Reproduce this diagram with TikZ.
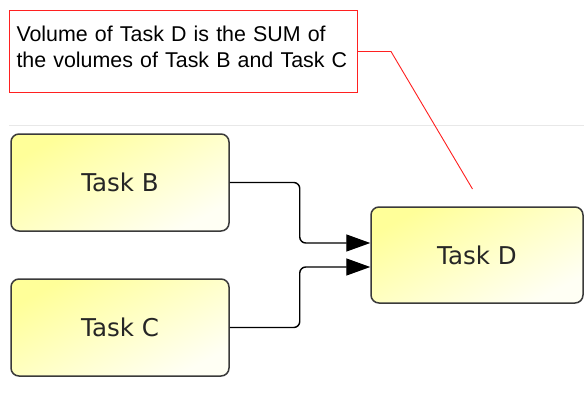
\documentclass[tikz,border=0pt]{standalone}
\usepackage{fontspec}
\setmainfont{Liberation Sans}
\newfontfamily\taskfont{DejaVu Sans}
\usetikzlibrary{arrows.meta}

\definecolor{taskedge}{HTML}{3A3A3A}
\definecolor{taskyellow}{HTML}{FFFF99}
\definecolor{taskpale}{HTML}{FFFFF4}
\definecolor{rulegray}{HTML}{E8E8E8}
\definecolor{notered}{HTML}{FF2020}

\tikzset{
  taskbox/.style={draw=taskedge, line width=1.5pt, rounded corners=8pt,
    top color=taskyellow, bottom color=taskpale, shading angle=28,
    minimum width=218pt, minimum height=97pt, inner sep=0pt,
    font=\taskfont\fontsize{24.5}{28}\selectfont, text=black!85},
  conn/.style={draw=black, line width=1.4pt, rounded corners=6pt,
    -{Triangle[length=24pt,width=17pt]}},
  note/.style={draw=notered, line width=1pt, fill=white, anchor=north west,
    align=left, text width=334pt, inner xsep=7pt, inner ysep=0pt,
    text height=31pt, text depth=51pt,
    font=\fontsize{21.4}{25.7}\selectfont},
  leader/.style={draw=notered, line width=0.9pt},
}

\begin{document}
\begin{tikzpicture}[x=1pt,y=-1pt]
  \useasboundingbox[fill=white] (0,0) rectangle (584,399);

  % separator rule below the note
  \coordinate (ruleL) at (9,125);
  \coordinate (ruleR) at (584,125);
  \draw[rulegray, line width=1pt] (ruleL) -- (ruleR);

  % note
  \node[note] (note) at (9,10)
    {Volume of Task D is the SUM of\\the volumes of Task B and Task C};
  \coordinate (tip) at (472.5,189);
  \draw[leader] (note.east) -- ++(33,0) -- (tip);

  % tasks
  \node[taskbox] (B) at (120,182.5) {Task B};
  \node[taskbox] (C) at (120,327.5) {Task C};
  \node[taskbox, minimum width=212pt, minimum height=96pt] (D) at (477,255) {Task D};

  % flows into Task D
  \draw[conn] (B.east) -- ++(70,0) |- ([yshift=12pt]D.west);
  \draw[conn] (C.east) -- ++(70,0) |- ([yshift=-12pt]D.west);
\end{tikzpicture}
\end{document}
